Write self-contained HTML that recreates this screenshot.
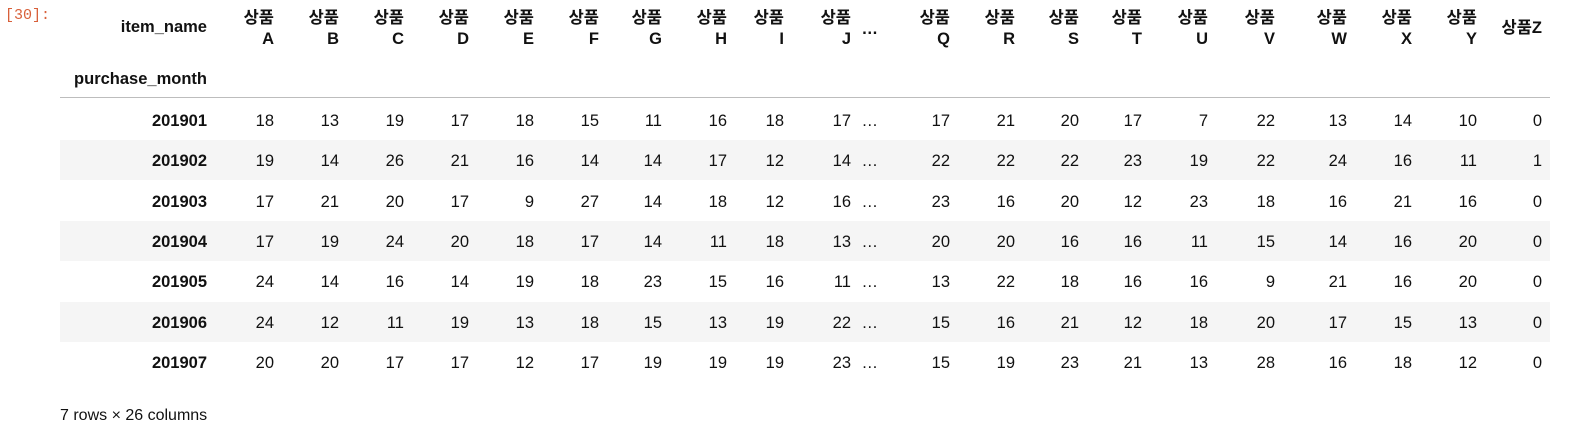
<!DOCTYPE html>
<html><head><meta charset="utf-8">
<style>
body{margin:0;width:1578px;height:438px;background:#fff;position:relative;overflow:hidden;font-family:"Liberation Sans","Noto Sans CJK KR",sans-serif;color:#111;}
.a{position:absolute;white-space:nowrap;font-size:16.5px;line-height:20px;}
.r{transform:translateX(-100%);text-align:right;}
.b{font-weight:bold;}
.stripe{position:absolute;left:60px;width:1490px;height:40px;background:#f5f5f5;}
</style></head>
<body>
<div class="a" style="left:5px;top:6px;color:#d8603a;font-family:'Liberation Mono',monospace;font-size:15px;">[30]:</div>
<div id="tbl"></div>
<div style="position:absolute;left:60px;top:97px;width:1490px;height:1px;background:#bdbdbd"></div>
<div class="a" style="left:60px;top:406px;font-size:16px;">7 rows × 26 columns</div>
<script>
const columns=["A","B","C","D","E","F","G","H","I","J","…","Q","R","S","T","U","V","W","X","Y","Z"];
const months=["201901","201902","201903","201904","201905","201906","201907"];
const v0=[18,13,19,17,18,15,11,16,18,17,"…",17,21,20,17,7,22,13,14,10,0];
const v1=[19,14,26,21,16,14,14,17,12,14,"…",22,22,22,23,19,22,24,16,11,1];
const v2=[17,21,20,17,9,27,14,18,12,16,"…",23,16,20,12,23,18,16,21,16,0];
const v3=[17,19,24,20,18,17,14,11,18,13,"…",20,20,16,16,11,15,14,16,20,0];
const v4=[24,14,16,14,19,18,23,15,16,11,"…",13,22,18,16,16,9,21,16,20,0];
const v5=[24,12,11,19,13,18,15,13,19,22,"…",15,16,21,12,18,20,17,15,13,0];
const v6=[20,20,17,17,12,17,19,19,19,23,"…",15,19,23,21,13,28,16,18,12,0];
const rows=[v0,v1,v2,v3,v4,v5,v6];
const rights=[274,339,404,469,534,599,662,727,784,851,883,950,1015,1079,1142,1208,1275,1347,1412,1477,1542];
const idxRight=207,rowTop=100,rowH=40.3;
const t=document.getElementById('tbl');
function add(txt,x,y,cls,name){const d=document.createElement('div');d.className='a r '+cls;d.style.left=x+'px';d.style.top=y+'px';d.textContent=txt;


t.appendChild(d);return d;}
for(let i=0;i<rows.length;i++){if(i%2===1){const s=document.createElement('div');s.className='stripe';s.style.top=(rowTop+i*rowH)+'px';


t.appendChild(s);}}
add('item_name',idxRight,17,'b','column-axis-label');
add('purchase_month',idxRight,69,'b','index-axis-label');
columns.forEach((c,j)=>{
 if(c==='…'){add('…',rights[j]-5,19,'b','header-ellipsis');return;}
 if(c==='Z'){add('상품Z',rights[j],18,'b','header-상품Z');return;}
 add('상품',rights[j],8,'b','header-상품'+c);
 add(c,rights[j],29,'b','header-letter-'+c);
});
rows.forEach((r,i)=>{
 const y=rowTop+i*rowH+11;
 add(months[i],idxRight,y,'b','row-index-'+months[i]);
 r.forEach((v,j)=>{add(String(v),rights[j]-(v==='…'?5:0),y,'','cell-'+months[i]+'-'+columns[j]);});
});
</script>
</body></html>
